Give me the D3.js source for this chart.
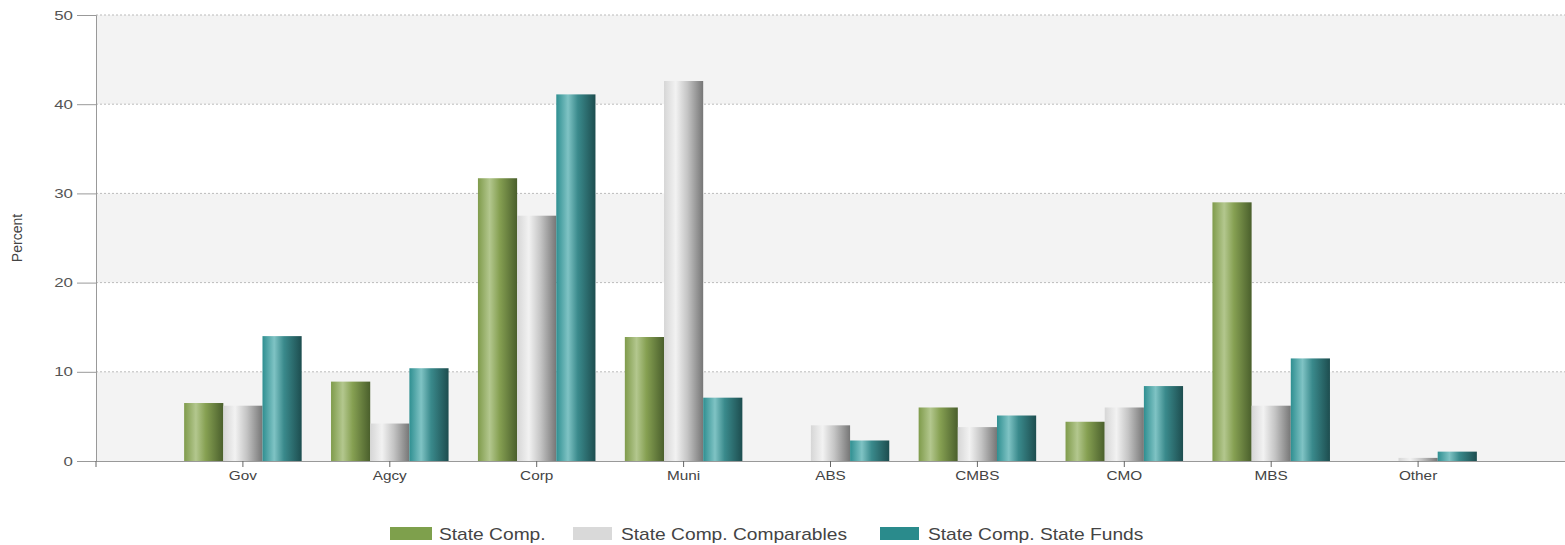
<!DOCTYPE html>
<html><head><meta charset="utf-8">
<script src="https://cdn.jsdelivr.net/npm/d3@7"></script>
<style>
body{margin:0;background:#fff;font-family:"Liberation Sans",Arial,sans-serif;}
.sx{transform-box:fill-box;}
</style>
</head><body>
<svg id="chart" width="1565" height="545"></svg>
<script>
const categories = ["Gov","Agcy","Corp","Muni","ABS","CMBS","CMO","MBS","Other"];
const seriesNames = ["State Comp.","State Comp. Comparables","State Comp. State Funds"];
const stateComp = [6.5, 8.9, 31.7, 13.9, 0, 6.0, 4.4, 29.0, 0];
const comparables = [6.2, 4.2, 27.5, 42.6, 4.0, 3.8, 6.0, 6.2, 0.35];
const stateFunds = [14.0, 10.4, 41.1, 7.1, 2.3, 5.1, 8.4, 11.5, 1.05];
const yTicks = [0,10,20,30,40,50];

const series = [stateComp, comparables, stateFunds];
const svg = d3.select("#chart");
const m = {left:96, right:0, top:15, bottom:84};
const W = 1565, H = 545;
const x = d3.scaleBand().domain(categories).range([m.left, W - m.right]).paddingInner(0).paddingOuter(0.5);
const y = d3.scaleLinear().domain([0,50]).range([H - m.bottom, m.top]);
const groupW = x.bandwidth() * 0.8;
const xs = d3.scaleBand().domain(d3.range(3)).range([0, groupW]).padding(0);

const defs = svg.append("defs");
const grads = [
  [["0%","#7f9b4b"],["30%","#b3c78e"],["55%","#86a052"],["100%","#4a5f2c"]],
  [["0%","#d6d6d6"],["30%","#f2f2f2"],["60%","#c4c4c4"],["100%","#767676"]],
  [["0%","#2f8f91"],["30%","#7fc3c4"],["55%","#3a8a8c"],["100%","#1d4d4f"]]
];
grads.forEach((g,i)=>{
  const lg = defs.append("linearGradient").attr("id","g"+i).attr("x1","0%").attr("x2","100%").attr("y1","0%").attr("y2","0%");
  g.forEach(s=>lg.append("stop").attr("offset",s[0]).attr("stop-color",s[1]));
});
const legendColors = ["#7ea04c","#d9d9d9","#2a8b8c"];

// bands
for (let i=0;i<yTicks.length-1;i++){
  if (i%2===0){
    svg.append("rect").attr("x",m.left).attr("width",W-m.right-m.left)
      .attr("y",y(yTicks[i+1])).attr("height",y(yTicks[i])-y(yTicks[i+1])).attr("fill","#f3f3f3");
  }
}
// grid
svg.append("g").selectAll("line").data(yTicks.filter(d=>d>0)).join("line")
  .attr("x1",m.left).attr("x2",W-m.right).attr("y1",d=>y(d)).attr("y2",d=>y(d))
  .attr("stroke","#bbb").attr("stroke-dasharray","2,2").attr("stroke-width",1);

// bars
const grp = svg.append("g").selectAll("g").data(categories).join("g")
  .attr("transform",d=>`translate(${x(d)+(x.bandwidth()-groupW)/2},0)`);
grp.selectAll("rect").data((d,ci)=>series.map((s,si)=>({si, v:s[ci]}))).join("rect")
  .attr("x",d=>xs(d.si)).attr("width",xs.bandwidth())
  .attr("y",d=>y(d.v)).attr("height",d=>y(0)-y(d.v))
  .attr("fill",d=>`url(#g${d.si})`);

// y axis
const ya = svg.append("g").attr("transform",`translate(${m.left},0)`)
  .call(d3.axisLeft(y).tickValues(yTicks).tickSize(19).tickPadding(4));
ya.select(".domain").attr("stroke","#999");
ya.selectAll(".tick line").attr("stroke","#999");
ya.selectAll("text").attr("fill","#555").style("font-size","13px").style("font-family","Liberation Sans, Arial, sans-serif")
  .style("transform-box","fill-box").style("transform-origin","right center").style("transform","scaleX(1.3)");

// x axis
const xa = svg.append("g").attr("transform",`translate(0,${y(0)})`)
  .call(d3.axisBottom(x).tickSize(6).tickPadding(4).tickSizeOuter(0));
xa.select(".domain").attr("stroke","#999");
xa.selectAll(".tick line").attr("stroke","#666");
xa.selectAll("text").attr("fill","#444").style("font-size","13px").style("font-family","Liberation Sans, Arial, sans-serif")
  .style("transform-box","fill-box").style("transform-origin","center").style("transform","scaleX(1.18)");
svg.append("line").attr("x1",m.left).attr("x2",m.left).attr("y1",y(0)).attr("y2",y(0)+6).attr("stroke","#666");

// y label
svg.append("text").attr("transform",`translate(22,${(y(0)+y(50))/2}) rotate(-90)`)
  .attr("text-anchor","middle").attr("fill","#444").style("font-size","14px").text("Percent");

// legend
const legX = [390, 573, 880];
const lg = svg.append("g").selectAll("g").data(seriesNames).join("g")
  .attr("transform",(d,i)=>`translate(${legX[i]},527)`);
lg.append("rect").attr("width",(d,i)=>i===0?42:39).attr("height",13).attr("fill",(d,i)=>legendColors[i]);
lg.append("text").attr("x",(d,i)=>i===0?49:48).attr("y",13).attr("fill","#444").style("font-size","16px").text(d=>d)
  .style("transform-box","fill-box").style("transform-origin","left center").style("transform","scaleX(1.2)");
</script>
</body></html>
